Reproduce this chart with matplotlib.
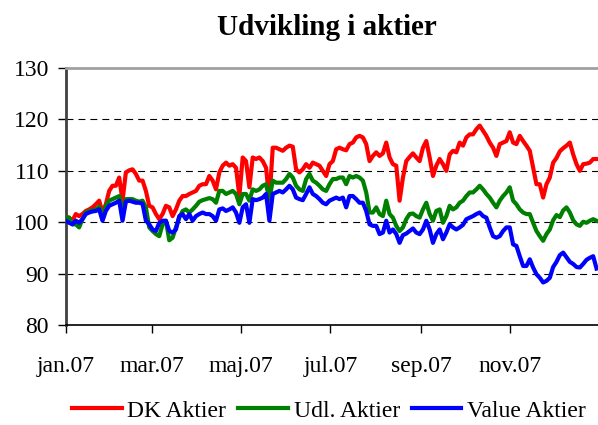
import numpy as np
import pandas as pd
import matplotlib
matplotlib.use('Agg')
import matplotlib.pyplot as plt

plt.rcParams['font.family'] = ['Liberation Serif', 'DejaVu Serif']
plt.rcParams['lines.scale_dashes'] = False

# index values (start = 100), ~every 2nd trading day
dk_aktier = [
    101.0, 100.9, 100.3, 101.6, 101.2, 101.6, 102.2, 102.5, 102.9, 103.5,
    104.2, 101.9, 103.5, 106.1, 107.1, 107.1, 108.7, 104.2, 109.7, 110.1,
    110.3, 109.4, 108.1, 108.1, 106.1, 103.2, 102.9, 101.6, 100.6, 101.6,
    103.2, 102.9, 101.2, 102.5, 104.2, 105.1, 105.1, 105.5, 105.8, 106.1,
    107.1, 107.4, 107.4, 109.0, 108.1, 106.4, 109.7, 111.0, 111.6, 111.0,
    111.3, 110.6, 105.1, 112.6, 111.9, 106.8, 112.6, 112.3, 112.6, 111.9,
    110.6, 104.2, 114.5, 114.5, 114.2, 113.9, 114.5, 114.9, 114.7, 110.3,
    109.7, 110.3, 111.3, 110.6, 111.6, 111.3, 111.0, 110.0, 109.0, 111.3,
    111.9, 114.2, 114.5, 114.2, 114.0, 115.2, 115.5, 116.5, 116.8, 116.5,
    115.2, 111.9, 112.9, 113.6, 112.9, 113.4, 115.5, 112.6, 111.3, 111.0,
    104.2, 108.7, 111.9, 112.7, 113.4, 112.6, 111.9, 114.5, 115.8, 112.6,
    109.0, 111.0, 112.3, 111.3, 110.0, 113.2, 113.9, 113.6, 115.5, 114.9,
    116.5, 117.1, 117.1, 118.1, 118.8, 117.8, 116.8, 115.5, 114.5, 112.9,
    115.2, 115.5, 115.8, 117.5, 115.5, 115.2, 116.8, 115.8, 114.9, 113.9,
    110.6, 107.4, 107.4, 104.8, 107.4, 108.7, 111.6, 112.5, 113.8, 114.4,
    114.9, 115.5, 113.2, 111.3, 110.0, 111.3, 111.4, 111.6, 112.3, 112.3,
]

udl_aktier = [
    101.0, 100.9, 99.6, 99.6, 99.0, 100.6, 101.9, 102.2, 102.3, 102.5,
    103.0, 101.2, 103.2, 104.2, 104.5, 104.8, 105.1, 102.2, 104.5, 104.5,
    104.5, 104.2, 104.0, 104.2, 102.9, 99.0, 98.3, 97.7, 97.3, 99.6,
    100.3, 96.5, 97.0, 99.0, 100.9, 102.2, 102.5, 101.9, 102.5, 103.2,
    104.0, 104.3, 104.5, 104.7, 104.5, 103.8, 106.1, 106.1, 105.5, 105.8,
    106.1, 105.5, 103.5, 105.5, 105.5, 104.2, 106.4, 106.1, 106.4, 107.1,
    107.4, 104.5, 108.1, 107.7, 107.7, 107.7, 108.4, 109.4, 108.7, 107.1,
    106.4, 106.1, 108.4, 109.4, 108.1, 107.7, 107.1, 106.4, 106.1, 107.4,
    108.4, 108.4, 108.7, 108.7, 107.4, 109.0, 108.7, 109.0, 108.7, 108.1,
    105.8, 101.9, 101.9, 102.9, 101.6, 101.2, 104.2, 101.6, 100.9, 99.3,
    98.3, 99.0, 100.6, 101.6, 101.7, 101.2, 100.9, 102.5, 103.8, 101.6,
    100.3, 102.2, 102.5, 99.9, 101.2, 103.2, 102.5, 102.9, 103.8, 104.2,
    105.1, 105.8, 105.8, 106.4, 107.1, 106.4, 105.5, 104.8, 103.8, 102.9,
    104.2, 105.1, 105.8, 106.8, 104.2, 103.5, 102.5, 101.9, 101.6, 101.6,
    99.9, 98.3, 97.3, 96.4, 97.7, 98.6, 100.4, 101.4, 101.0, 102.3,
    102.9, 101.9, 100.4, 99.6, 99.3, 100.1, 99.9, 100.3, 100.6, 100.3,
]

value_aktier = [
    100.3, 99.9, 99.6, 100.3, 99.9, 100.6, 101.6, 101.9, 102.1, 102.2,
    102.5, 100.3, 102.2, 103.2, 103.5, 103.8, 104.2, 100.3, 104.0, 104.2,
    104.0, 103.8, 103.8, 103.6, 100.3, 99.6, 98.6, 98.3, 99.9, 100.3,
    100.3, 98.3, 98.0, 98.6, 101.2, 101.6, 100.6, 101.6, 100.3, 101.2,
    101.6, 101.9, 101.6, 101.6, 101.2, 100.3, 102.5, 102.7, 102.2, 102.5,
    102.9, 101.9, 99.9, 102.9, 103.5, 99.9, 104.5, 104.3, 104.5, 104.8,
    105.5, 100.3, 105.5, 105.8, 106.1, 105.8, 106.4, 107.1, 106.4, 104.8,
    104.5, 104.3, 105.5, 106.8, 105.5, 105.1, 104.5, 103.8, 103.5, 104.2,
    104.5, 104.8, 104.5, 104.8, 102.9, 105.1, 105.1, 104.5, 103.8, 103.8,
    102.2, 99.6, 99.3, 99.3, 97.7, 98.0, 100.3, 98.0, 98.6, 97.7,
    96.0, 97.5, 97.8, 98.3, 98.8, 98.0, 97.7, 98.6, 100.3, 98.6,
    96.0, 97.7, 98.6, 96.7, 98.0, 99.6, 99.0, 98.6, 99.0, 99.5,
    100.6, 100.9, 101.2, 101.6, 101.9, 101.2, 100.9, 99.0, 97.3, 97.0,
    97.3, 98.3, 99.0, 99.0, 95.7, 95.4, 93.4, 91.5, 91.5, 92.8,
    91.2, 89.9, 89.2, 88.3, 88.6, 89.2, 91.3, 92.3, 93.6, 94.1,
    93.2, 92.3, 91.9, 91.3, 91.2, 91.9, 92.7, 93.1, 93.4, 91.0,
]

dates = pd.date_range('2007-01-01', '2007-12-30', periods=len(dk_aktier))

tick_dates = pd.to_datetime(['2007-01-01', '2007-03-01', '2007-05-01',
                             '2007-07-01', '2007-09-01', '2007-11-01'])
tick_labels = ['jan.07', 'mar.07', 'maj.07', 'jul.07', 'sep.07', 'nov.07']

fig, ax = plt.subplots(figsize=(5.98, 4.25), dpi=100)
fig.subplots_adjust(left=0.110, right=1.0, top=0.84, bottom=0.235)

for yv in [90, 100, 110, 120]:
    ax.axhline(yv, color='black', lw=0.8, dashes=(5, 3.6), zorder=1)

ax.plot(dates, dk_aktier, color='#ff0000', lw=3, label='DK Aktier', zorder=3)
ax.plot(dates, udl_aktier, color='#008000', lw=3, label='Udl. Aktier', zorder=3)
ax.plot(dates, value_aktier, color='#0000ff', lw=3, label='Value Aktier', zorder=3)

ax.set_xlim(pd.Timestamp('2007-01-01'), pd.Timestamp('2007-12-31'))
ax.set_ylim(80, 130)
ax.set_yticks([80, 90, 100, 110, 120, 130])
ax.set_xticks(tick_dates)
ax.set_xticklabels(tick_labels)
ax.tick_params(axis='both', labelsize=17, direction='out', length=6, width=1)
ax.tick_params(axis='x', pad=16)
ax.tick_params(axis='y', pad=6)

ax.spines['right'].set_visible(False)
ax.spines['top'].set_color('#a0a0a0')
ax.spines['top'].set_linewidth(2)
ax.spines['left'].set_color('#404040')
ax.spines['left'].set_linewidth(2)
ax.spines['bottom'].set_color('black')
ax.spines['bottom'].set_linewidth(1.2)

fig.text(0.547, 0.935, 'Udvikling i aktier', ha='center', va='center',
         fontsize=21, fontweight='bold')

fig.legend(loc='center', bbox_to_anchor=(0.55, 0.033), ncol=3, frameon=False,
           fontsize=17, handlelength=2.1, handletextpad=0.25,
           columnspacing=0.5)

fig.savefig('out.png', dpi=100)
